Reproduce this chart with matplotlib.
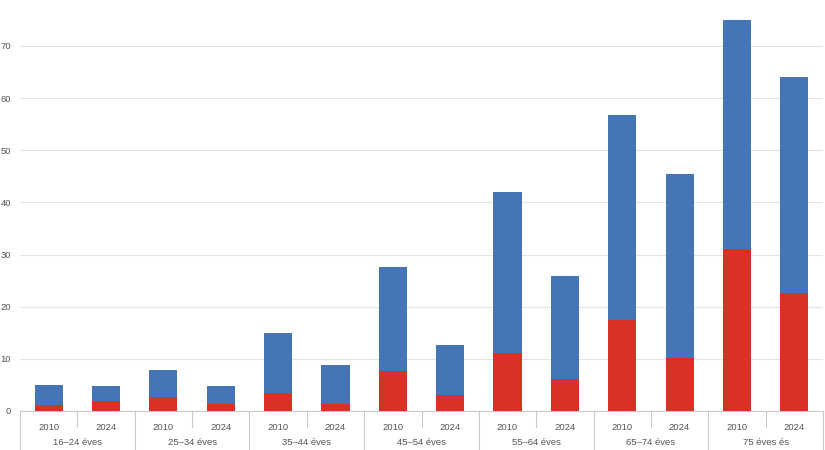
import matplotlib.pyplot as plt
import matplotlib.transforms as mtransforms
import numpy as np

groups = ["16–24 éves", "25–34 éves", "35–44 éves", "45–54 éves",
          "55–64 éves", "65–74 éves", "75 éves és"]
years = ["2010", "2024"]
# teljes oszlopmagasság és a piros rész
total = [4.9, 4.7, 7.9, 4.7, 15.0, 8.8, 27.7, 12.7, 42.0, 25.9, 56.8, 45.5, 75.0, 64.0]
red = [1.2, 1.9, 2.7, 1.4, 3.4, 1.4, 7.6, 3.1, 11.1, 6.1, 17.5, 10.1, 31.1, 22.6]
yticks = [0, 10, 20, 30, 40, 50, 60, 70]

blue_c = "#4575b7"
red_c = "#d93126"
txt_c = "#555555"
line_c = "#c9c9c9"

plt.rcParams["font.family"] = ["Liberation Sans", "DejaVu Sans"]

fig = plt.figure(figsize=(8.25, 4.5), dpi=100)
ax = fig.add_axes([20 / 825, 39 / 450, 803 / 825, 411 / 450])

x = np.arange(len(total))
blue = np.array(total) - np.array(red)
ax.bar(x, red, width=0.49, color=red_c, zorder=3)
ax.bar(x, blue, width=0.49, bottom=red, color=blue_c, zorder=3)

ax.set_xlim(-0.5, len(total) - 0.5)
ax.set_ylim(0, 78.8)
ax.set_yticks(yticks)
ax.set_yticklabels([str(v) for v in yticks])
ax.tick_params(axis="y", length=0, pad=6.5, labelsize=6.8, labelcolor=txt_c)
ax.set_xticks([])
ax.grid(axis="y", color="#e3e3e3", linewidth=0.8, zorder=0)
for s in ["top", "right", "left"]:
    ax.spines[s].set_visible(False)
ax.spines["bottom"].set_color(line_c)
ax.spines["bottom"].set_linewidth(0.8)

trans = mtransforms.blended_transform_factory(ax.transData, ax.transAxes)
# évszámok
for i in x:
    ax.text(i, -0.04, years[i % 2], transform=trans, ha="center", va="center",
            fontsize=6.8, color=txt_c)
# korcsoportok és elválasztók
for g, name in enumerate(groups):
    ax.text(2 * g + 0.5, -0.077, name, transform=trans, ha="center", va="center",
            fontsize=6.8, color=txt_c)
    ax.plot([2 * g + 0.5, 2 * g + 0.5], [0, -0.04], transform=trans,
            color=line_c, linewidth=0.8, clip_on=False)
for b in range(len(groups) + 1):
    ax.plot([2 * b - 0.5, 2 * b - 0.5], [0, -0.1], transform=trans,
            color=line_c, linewidth=0.8, clip_on=False)

plt.savefig("out.png", dpi=100)
